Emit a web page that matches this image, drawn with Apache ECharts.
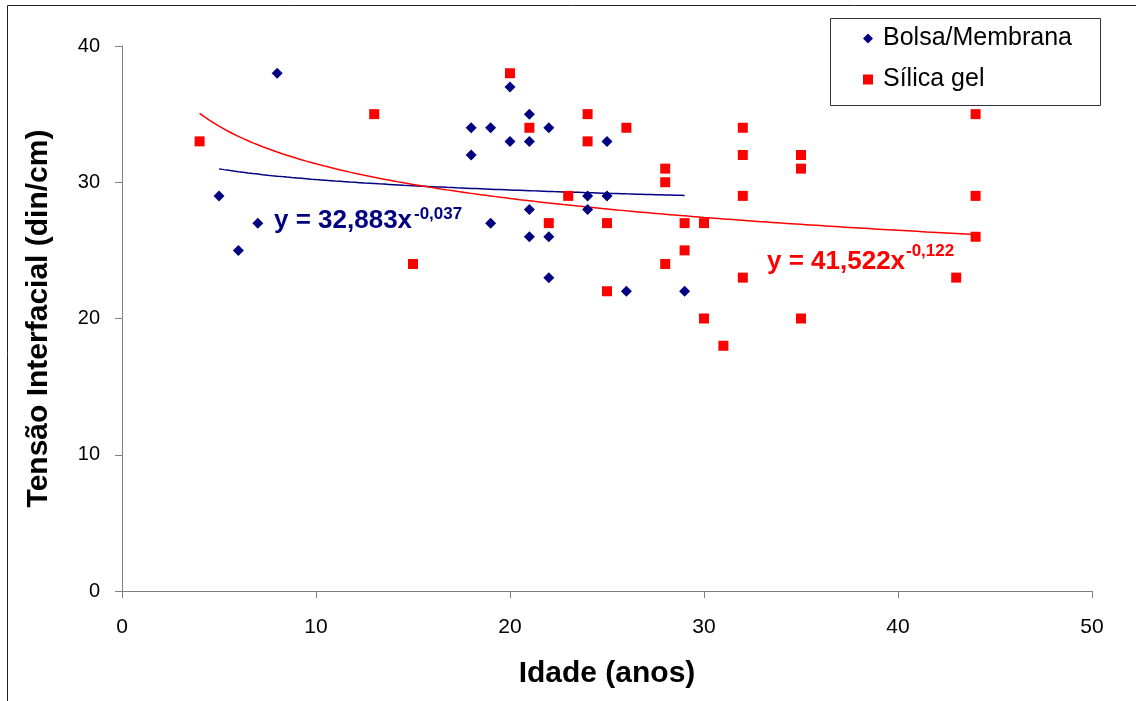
<!DOCTYPE html>
<html><head><meta charset="utf-8">
<script src="https://cdn.jsdelivr.net/npm/echarts@6/dist/echarts.min.js"></script>
<style>html,body{margin:0;padding:0;background:#fff}#c{width:1136px;height:701px}</style>
</head><body><div id="c"></div>
<script>
// Bolsa/Membrana: [idade, tensão]
const bolsa = [[5,29],[6,25],[7,27],[8,38],[18,34],[18,32],[19,34],[19,27],[20,37],[20,33],
  [21,35],[21,33],[21,28],[21,26],[22,34],[22,26],[22,23],[24,29],[24,28],[25,33],[25,29],[26,22],[29,22]];
// Sílica gel
const silica = [[4,33],[13,35],[15,24],[20,38],[21,34],[22,27],[23,29],[24,35],[24,33],[25,27],[25,22],
  [26,34],[28,31],[28,30],[28,24],[29,27],[29,25],[30,27],[30,20],[31,18],[32,34],[32,32],[32,29],
  [32,23],[35,32],[35,31],[35,20],[43,23],[44,35],[44,29],[44,26]];
// Power trendlines as printed on the chart: y = a * x^b
const trendBolsa = {a: 32.883, b: -0.037, label: 'y = 32,883x', exp: '-0,037'};
const trendSilica = {a: 41.522, b: -0.122, label: 'y = 41,522x', exp: '-0,122'};
const xTicks = [0,10,20,30,40,50];
const yTicks = [0,10,20,30,40];

function trendPts(t, pts){
  const xs = pts.map(p=>p[0]);
  const lo = Math.min(...xs), hi = Math.max(...xs);
  const out = [];
  for (let x = lo; x <= hi + 1e-9; x += 0.25) out.push([x, t.a*Math.pow(x, t.b)]);
  return out;
}

const chart = echarts.init(document.getElementById('c'));
const F = 'Arial, "Liberation Sans", sans-serif';
const axisCol = '#808080';
chart.setOption({
  animation: false,
  textStyle: {fontFamily: F},
  grid: {left: 122, right: 44, top: 46, bottom: 110},
  xAxis: {
    type: 'value', min: xTicks[0], max: xTicks[xTicks.length-1], interval: 10,
    name: 'Idade (anos)', nameLocation: 'middle', nameGap: 68,
    nameTextStyle: {fontSize: 30, fontWeight: 'bold', color: '#000', fontFamily: F},
    axisLine: {show: true, lineStyle: {color: axisCol, width: 1}},
    axisTick: {show: true, length: 7, lineStyle: {color: axisCol}},
    axisLabel: {fontSize: 21, color: '#000', margin: 26, fontFamily: F},
    splitLine: {show: false}
  },
  yAxis: {
    type: 'value', min: yTicks[0], max: yTicks[yTicks.length-1], interval: 10,
    name: 'Tensão Interfacial (din/cm)', nameLocation: 'middle', nameGap: 68,
    nameTextStyle: {fontSize: 30, fontWeight: 'bold', color: '#000', fontFamily: F},
    axisLine: {show: true, lineStyle: {color: axisCol, width: 1}},
    axisTick: {show: true, length: 7, lineStyle: {color: axisCol}},
    axisLabel: {fontSize: 20, color: '#000', margin: 22, fontFamily: F},
    splitLine: {show: false}
  },
  legend: {
    data: [{name: 'Bolsa/Membrana', icon: 'diamond'}, {name: 'Sílica gel', icon: 'rect'}],
    orient: 'vertical', left: 831, top: 18,
    padding: [8, 0, 0, 32],
    itemGap: 16, itemWidth: 10, itemHeight: 10,
    borderWidth: 0,
    textStyle: {fontSize: 25, color: '#000', fontFamily: F, padding: [0,0,0,5]}
  },
  graphic: [
    {type: 'rect', shape: {x: 7.5, y: 5.5, width: 1150, height: 720}, style: {fill: 'none', stroke: '#222', lineWidth: 1}, silent: true, z: -1},
    {type: 'rect', shape: {x: 830.5, y: 18.5, width: 270, height: 87}, style: {fill: '#fff', stroke: '#333', lineWidth: 1}, silent: true, z: 0},
    {type: 'text', left: 274, top: 208, z: 10, style: {text: trendBolsa.label, font: 'bold 26px ' + F, fill: '#000080'}},
    {type: 'text', left: 414, top: 206, z: 10, style: {text: trendBolsa.exp, font: 'bold 17px ' + F, fill: '#000080'}},
    {type: 'text', left: 767, top: 249, z: 10, style: {text: trendSilica.label, font: 'bold 26px ' + F, fill: '#FF0000'}},
    {type: 'text', left: 906, top: 243, z: 10, style: {text: trendSilica.exp, font: 'bold 17px ' + F, fill: '#FF0000'}}
  ],
  series: [
    {name: 'tendência Bolsa', type: 'line', data: trendPts(trendBolsa, bolsa), showSymbol: false,
     lineStyle: {color: '#000080', width: 1.5}, z: 1, silent: true},
    {name: 'tendência Sílica', type: 'line', data: trendPts(trendSilica, silica), showSymbol: false,
     lineStyle: {color: '#FF0000', width: 1.5}, z: 1, silent: true},
    {name: 'Sílica gel', type: 'scatter', data: silica, symbol: 'rect', symbolSize: 10,
     itemStyle: {color: '#FF0000', opacity: 1}, z: 3},
    {name: 'Bolsa/Membrana', type: 'scatter', data: bolsa, symbol: 'diamond', symbolSize: 11,
     itemStyle: {color: '#000080', opacity: 1}, z: 4}
  ]
});
</script></body></html>
